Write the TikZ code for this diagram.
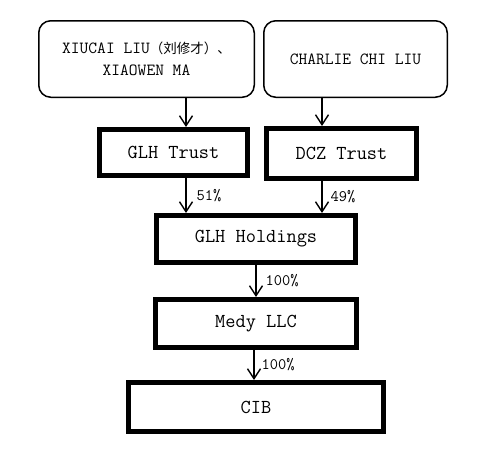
\documentclass[tikz,border=0pt]{standalone}
\usepackage{fontspec}
\newfontfamily\cjkfont{Noto Sans CJK SC}
\usetikzlibrary{arrows.meta,positioning}

\begin{document}
\begin{tikzpicture}[x=1pt,y=-1pt,
    owner/.style={draw, rounded corners=12pt, line width=1.5pt, minimum height=76.5pt,
        inner sep=0pt, align=center, font=\fontsize{17}{22}\selectfont\ttfamily},
    entity/.style={draw, line width=5pt, inner sep=0pt,
        font=\fontsize{19.8}{22}\selectfont\ttfamily},
    arr/.style={-{Straight Barb[length=10pt,width=13pt]}, line width=1.4pt},
    pct/.style={inner sep=0pt, font=\fontsize{16}{18}\selectfont\ttfamily}
]

    \useasboundingbox (0,0) rectangle (490,458);

    %owners
    \node (xiucai) at (146.5,59) [owner, minimum width=215.5pt]
        {XIUCAI LIU{\fontsize{13.5}{22}\selectfont\cjkfont（刘修才）、}\\XIAOWEN MA};
    \node (charlie) at (355.5,59) [owner, minimum width=183.5pt] {CHARLIE CHI LIU};

    %entities
    \node (glhtrust) at (173.5,152.5) [entity, minimum width=148pt, minimum height=46pt] {GLH Trust};
    \node (dcztrust) at (341.5,153.5) [entity, minimum width=150pt, minimum height=50pt] {DCZ Trust};
    \node (glhhold) at (256,239) [entity, minimum width=199pt, minimum height=47pt] {GLH Holdings};
    \node (medy) at (256,323.5) [entity, minimum width=201pt, minimum height=48pt] {Medy LLC};
    \node (cib) at (256,407) [entity, minimum width=255pt, minimum height=49pt] {CIB};

    %arrows
    \draw [arr] ([xshift=39.5pt]xiucai.south) -- ([xshift=39.5pt]xiucai.south |- glhtrust.north);
    \draw [arr] ([xshift=-33.5pt]charlie.south) -- ([xshift=-33.5pt]charlie.south |- dcztrust.north);

    \draw [arr] ([xshift=12.5pt]glhtrust.south) -- ([xshift=12.5pt]glhtrust.south |- glhhold.north)
        node [pct, midway, right=10pt] {51\%};
    \draw [arr] ([xshift=-19.5pt]dcztrust.south) -- ([xshift=-19.5pt]dcztrust.south |- glhhold.north)
        node [pct, midway, right=8pt] {49\%};
    \draw [arr] (glhhold.south) -- (medy.north)
        node [pct, midway, right=9pt] {100\%};
    \draw [arr] ([xshift=-2pt]medy.south) -- ([xshift=-2pt]medy.south |- cib.north)
        node [pct, midway, right=7pt] {100\%};

\end{tikzpicture}
\end{document}
